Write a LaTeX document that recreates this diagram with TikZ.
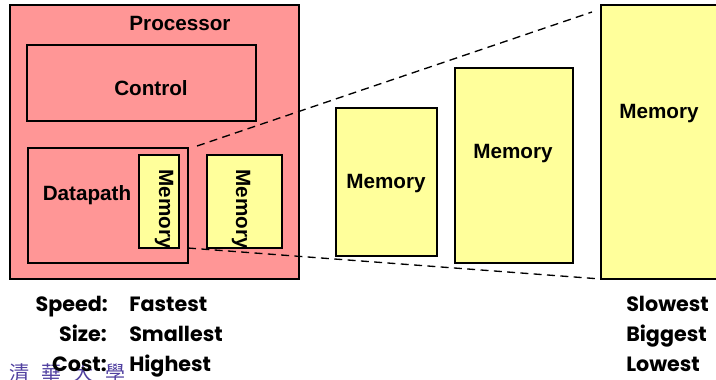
\documentclass[tikz,border=0pt]{standalone}
\usepackage{fontspec}
\setmainfont{Liberation Sans}
\newfontfamily\gothic{Poppins}
\newfontfamily\cjk{Noto Sans CJK TC}
\usetikzlibrary{fit,calc}
\definecolor{cpupink}{RGB}{255,150,150}
\definecolor{memyellow}{RGB}{255,255,155}
\definecolor{sealink}{RGB}{80,64,160}
\tikzset{
  box/.style={draw=black, line width=2pt, inner sep=0pt, outer sep=0pt},
  cpu/.style={box, fill=cpupink},
  mem/.style={box, fill=memyellow},
  lbl/.style={font=\bfseries\fontsize{15.5}{18}\selectfont, inner sep=0pt},
  cmp/.style={font=\gothic\bfseries\fontsize{15.5}{18}\selectfont, inner sep=0pt},
  zoomline/.style={draw=black, line width=1pt, dash pattern=on 6pt off 4pt},
}
\begin{document}
\begin{tikzpicture}[x=0.75pt,y=-0.75pt]
\useasboundingbox (0,0) rectangle (716,379);
\clip (0,0) rectangle (716,379);

% seal in the lower left corner
\node[font=\cjk\fontsize{15}{15}\selectfont, text=sealink, anchor=north west, inner sep=0pt] (seal) at (9,363) {清\hspace{9pt}華\hspace{9pt}大\hspace{9pt}學};

% processor with its parts
\node[cpu, fit={(10,5) (299,279)}] (proc) {};
\node[lbl] (proct) at (180,23) {Processor};
\node[cpu, fit={(27,45) (256,121)}] (ctrl) {};
\node[lbl] (ctrlt) at (151,88) {Control};
\node[cpu, fit={(28,148) (188,263)}] (dp) {};
\node[lbl] (dpt) at (87,195) {Datapath};
\node[mem, fit={(139,155) (179,248)}] (m1) {};
\node[lbl, rotate=-90] (m1t) at (164,209) {Memory};
\node[mem, fit={(207,155) (282,248)}] (m2) {};
\node[lbl, rotate=-90] (m2t) at (241,209) {Memory};

% memories outside the processor
\node[mem, fit={(336,108) (437,256)}] (m3) {};
\node[lbl] (m3t) at (386,184) {Memory};
\node[mem, fit={(455,68) (573,263)}] (m4) {};
\node[lbl] (m4t) at (513,154) {Memory};
\node[mem, fit={(601,5) (730,279)}] (m5) {};
\node[lbl] (m5t) at (659,114) {Memory};

% dashed lines fanning out from the datapath
\coordinate (zt) at (197,146);
\coordinate (zte) at (592,12);
\draw[zoomline] (zt) -- (zte);
\draw[zoomline] (dp.east |- m1.south) -- (m5.south west);

% comparison labels
\node[cmp, anchor=base east] (sp) at (108,311) {Speed:};
\node[cmp, anchor=base east] (sz) at (107,341) {Size:};
\node[cmp, anchor=base east] (co) at (107,371) {Cost:};
\node[cmp, anchor=base west] (spv) at (129,311) {Fastest};
\node[cmp, anchor=base west] (szv) at (129,341) {Smallest};
\node[cmp, anchor=base west] (cov) at (129,371) {Highest};
\node[cmp, anchor=base west] (spr) at (626,311) {Slowest};
\node[cmp, anchor=base west] (szr) at (626,341) {Biggest};
\node[cmp, anchor=base west] (cor) at (626,371) {Lowest};
\end{tikzpicture}
\end{document}
